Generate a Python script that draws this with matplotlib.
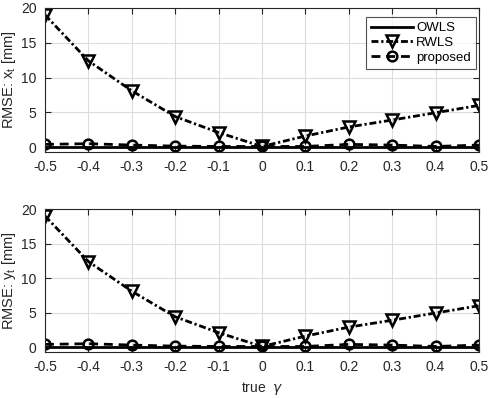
import matplotlib
matplotlib.use("Agg")
import matplotlib.pyplot as plt

plt.rcParams['font.family'] = ['Liberation Sans', 'DejaVu Sans']

gamma = [-0.5, -0.4, -0.3, -0.2, -0.1, 0.0, 0.1, 0.2, 0.3, 0.4, 0.5]
xticks = [-0.5, -0.4, -0.3, -0.2, -0.1, 0, 0.1, 0.2, 0.3, 0.4, 0.5]
xtick_labels = ['-0.5', '-0.4', '-0.3', '-0.2', '-0.1', '0', '0.1', '0.2', '0.3', '0.4', '0.5']
yticks = [0, 5, 10, 15, 20]

owls_x = [0.05, 0.05, 0.05, 0.05, 0.05, 0.05, 0.05, 0.05, 0.05, 0.05, 0.05]
rwls_x = [19.0, 12.4, 8.1, 4.4, 2.1, 0.1, 1.6, 2.9, 3.9, 4.95, 6.0]
prop_x = [0.4, 0.5, 0.3, 0.15, 0.1, 0.1, 0.1, 0.4, 0.3, 0.1, 0.3]

owls_y = [0.05, 0.05, 0.05, 0.05, 0.05, 0.05, 0.05, 0.05, 0.05, 0.05, 0.05]
rwls_y = [19.0, 12.4, 8.1, 4.4, 2.1, 0.1, 1.6, 2.9, 3.9, 4.95, 6.0]
prop_y = [0.4, 0.5, 0.3, 0.15, 0.1, 0.1, 0.1, 0.4, 0.3, 0.1, 0.3]

fig = plt.figure(figsize=(4.92, 3.98), dpi=100)
ax1 = fig.add_axes([0.0915, 0.618, 0.882, 0.362])
ax2 = fig.add_axes([0.0915, 0.1156, 0.882, 0.359])

def draw(ax, owls, rwls, prop, ylabel, legend):
    ax.plot(gamma, owls, '-', color='black', lw=2, label='OWLS')
    ax.plot(gamma, rwls, color='black', lw=2, dashes=(2.5, 1.0, 0.8, 1.0),
            marker='v', ms=8, mfc='none', mew=1.8, label='RWLS')
    ax.plot(gamma, prop, color='black', lw=2, dashes=(3.2, 2.1),
            marker='o', ms=7, mfc='none', mew=1.8, label='proposed')
    ax.set_xlim(-0.5, 0.5)
    ax.set_ylim(-0.7, 20)
    ax.set_xticks(xticks)
    ax.set_xticklabels(xtick_labels)
    ax.set_yticks(yticks)
    ax.grid(True, color='#dcdcdc', lw=0.8)
    ax.set_axisbelow(True)
    ax.tick_params(direction='in', length=4, labelsize=10, colors='#262626',
                   top=True, right=True, pad=6)
    for s in ax.spines.values():
        s.set_color('#262626')
        s.set_linewidth(0.8)
    ax.set_ylabel(ylabel, fontsize=10.5, color='#262626', labelpad=2)
    if legend:
        leg = ax.legend(loc='upper right', bbox_to_anchor=(0.993, 0.94),
                        fontsize=9.5, frameon=True, fancybox=False,
                        edgecolor='#262626', handlelength=3.2, borderpad=0.4,
                        labelspacing=0.2, handletextpad=0.2, borderaxespad=0.0)
        leg.get_frame().set_linewidth(0.8)

draw(ax1, owls_x, rwls_x, prop_x, r'RMSE: x$_\mathregular{t}$ [mm]', True)
draw(ax2, owls_y, rwls_y, prop_y, r'RMSE: y$_\mathregular{t}$ [mm]', False)
ax2.set_xlabel(r'true  $\gamma$', fontsize=10, color='#262626', labelpad=4)

fig.savefig('out.png', dpi=100)
